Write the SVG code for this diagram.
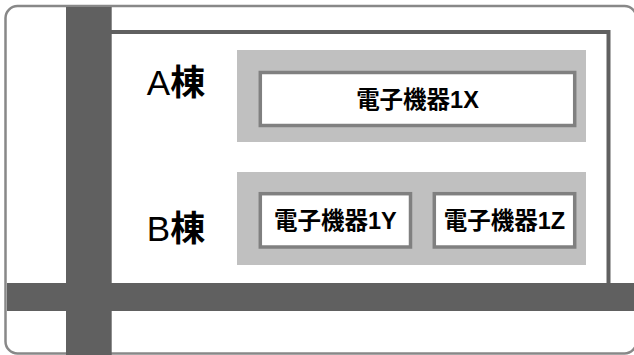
<svg xmlns="http://www.w3.org/2000/svg" width="634" height="355" viewBox="0 0 634 355">
<style>
.road{fill:#606060}
.zone{fill:#c0c0c0}
.dev{fill:#ffffff;stroke:#808080;stroke-width:3.5}
.devt{font-family:"Liberation Sans","Noto Sans CJK JP",sans-serif;font-size:23.5px;font-weight:bold;fill:#000;text-anchor:middle;dominant-baseline:central}
.lbl{font-family:"Liberation Sans","Noto Sans CJK JP",sans-serif;font-size:35px;fill:#000;text-anchor:middle;dominant-baseline:central}
.k{font-weight:bold}
</style>
<rect width="634" height="355" fill="#ffffff"/>
<g id="site">
<rect x="5.5" y="6" width="631" height="347.5" rx="12" fill="#ffffff" stroke="#888888" stroke-width="2.5"/>
</g>
<g id="building">
<rect x="90" y="32" width="518.5" height="253" fill="#ffffff" stroke="#606060" stroke-width="4"/>
</g>
<g id="roads">
<rect class="road" x="66" y="7" width="45.7" height="348"/>
<rect class="road" x="7" y="283" width="627" height="28"/>
</g>
<g id="buildingA">
<rect class="zone" x="237" y="50" width="349" height="92"/>
<text class="lbl" x="176" y="82">A<tspan class="k">棟</tspan></text>
</g>
<g id="buildingB">
<rect class="zone" x="237" y="172" width="349" height="93"/>
<text class="lbl" x="176" y="228">B<tspan class="k">棟</tspan></text>
</g>
<g id="device1X">
<rect class="dev" x="260.3" y="72.5" width="314.4" height="53"/>
<text class="devt" x="417.5" y="99.5">電子機器1X</text>
</g>
<g id="device1Y">
<rect class="dev" x="260.3" y="193.7" width="150.2" height="53.3"/>
<text class="devt" x="335.4" y="220.5">電子機器1Y</text>
</g>
<g id="device1Z">
<rect class="dev" x="434.3" y="193.7" width="140.4" height="53.3"/>
<text class="devt" x="504.5" y="220.5">電子機器1Z</text>
</g>
<g id="connectors"></g>
</svg>
